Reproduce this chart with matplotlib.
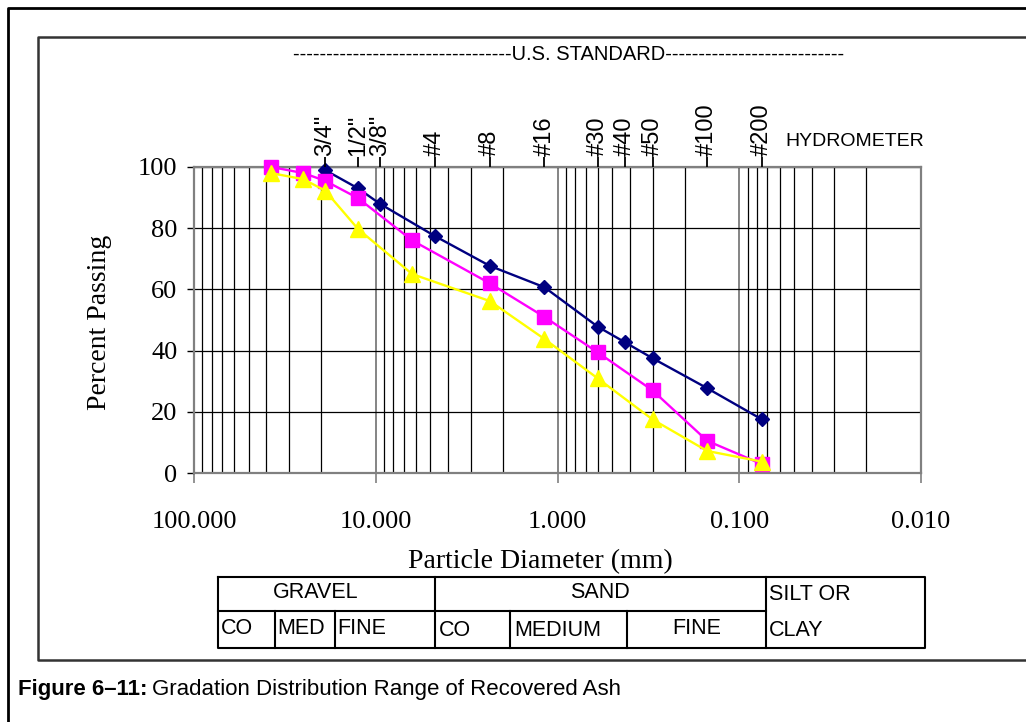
import numpy as np
import matplotlib
matplotlib.use("Agg")
import matplotlib.pyplot as plt
from matplotlib.lines import Line2D
from matplotlib.ticker import FixedLocator, NullFormatter, NullLocator, LogLocator, FormatStrFormatter

W, H = 1026, 722

# sieve openings (mm) and names for the top axis
sieve_mm = [19.0, 12.5, 9.5, 4.75, 2.36, 1.18, 0.6, 0.425, 0.3, 0.15, 0.075]
sieve_names = ['3/4"', '1/2"', '3/8"', '#4', '#8', '#16', '#30', '#40', '#50', '#100', '#200']

# series
navy_d = [19.0, 12.5, 9.5, 4.75, 2.36, 1.18, 0.6, 0.425, 0.3, 0.15, 0.075]
navy_p = [99, 93, 88, 77.5, 67.7, 60.7, 47.8, 42.7, 37.5, 27.7, 17.5]
pink_d = [37.5, 25.0, 19.0, 12.5, 6.3, 2.36, 1.18, 0.6, 0.3, 0.15, 0.075]
pink_p = [100, 98, 95.5, 89.8, 76, 62, 51, 39.4, 27, 10.5, 2.9]
yell_d = [37.5, 25.0, 19.0, 12.5, 6.3, 2.36, 1.18, 0.6, 0.3, 0.15, 0.075]
yell_p = [98, 96, 92.3, 79.7, 65, 56.2, 43.8, 30.9, 17.5, 7.2, 3.7]

serif = ['Liberation Serif', 'DejaVu Serif']
sans = ['Liberation Sans', 'DejaVu Sans']


def fx(x):
    return x / W


def fy(y):
    return 1 - y / H


def line(fig, xs, ys, color='black', lw=1.5):
    fig.add_artist(Line2D([fx(x) for x in xs], [fy(y) for y in ys],
                          transform=fig.transFigure, color=color, lw=lw,
                          solid_capstyle='projecting'))


fig = plt.figure(figsize=(W / 100, H / 100), dpi=100)
fig.patch.set_facecolor('white')

# frames
line(fig, [8, 8, W + 5], [H + 5, 8, 8], color='black', lw=2)
line(fig, [W + 5, 38, 38, W + 5], [37, 37, 660, 660], color='#333333', lw=1.8)

x0, x1, y0, y1 = 194, 921, 167, 473
ax = fig.add_axes([fx(x0), fy(y1), (x1 - x0) / W, (y1 - y0) / H])
ax.set_xscale('log')
ax.set_xlim(100, 0.01)
ax.set_ylim(0, 100)

ax.xaxis.set_major_locator(FixedLocator([100, 10, 1, 0.1, 0.01]))
ax.xaxis.set_major_formatter(FormatStrFormatter('%.3f'))
ax.xaxis.set_minor_locator(LogLocator(base=10, subs=np.arange(2, 10)))
ax.xaxis.set_minor_formatter(NullFormatter())
ax.set_yticks([0, 20, 40, 60, 80, 100])

ax.grid(True, which='minor', axis='x', color='black', lw=0.9)
ax.grid(True, which='major', axis='x', color='#707070', lw=1.2)
ax.grid(True, which='major', axis='y', color='black', lw=0.9)
ax.set_axisbelow(True)

for s in ax.spines.values():
    s.set_color('#808080')
    s.set_linewidth(1.6)

ax.tick_params(axis='x', which='major', direction='out', length=7.5, width=1.2,
               color='#808080', pad=20, labelsize=19)
ax.tick_params(axis='x', which='minor', length=0)
ax.tick_params(axis='y', direction='out', length=5, width=1, color='black',
               pad=7, labelsize=19)
for lab in ax.get_xticklabels() + ax.get_yticklabels():
    lab.set_family(serif)

ax.plot(navy_d, navy_p, color='#000080', lw=1.7, marker='D', ms=7.5,
        mfc='#000080', mec='#000080', clip_on=False, zorder=3)
ax.plot(pink_d, pink_p, color='#FF00FF', lw=1.7, marker='s', ms=10,
        mfc='#FF00FF', mec='#FF00FF', clip_on=False, zorder=4)
ax.plot(yell_d, yell_p, color='#FFFF00', lw=1.7, marker='^', ms=11,
        mfc='#FFFF00', mec='#FFFF00', clip_on=False, zorder=5)

# sieve ticks on top
ax2 = ax.twiny()
ax2.set_xscale('log')
ax2.set_xlim(100, 0.01)
ax2.xaxis.set_major_locator(FixedLocator(sieve_mm))
ax2.xaxis.set_minor_locator(NullLocator())
ax2.set_xticklabels(sieve_names, rotation=90, family=sans, fontsize=17)
ax2.tick_params(axis='x', direction='out', length=7, width=1.3, color='black', pad=1)
for s in ax2.spines.values():
    s.set_visible(False)

fig.text(fx(785), fy(141), 'HYDROMETER', family=sans, fontsize=14,
         ha='left', va='center')
fig.text(fx(569), fy(55), '-' * 33 + 'U.S. STANDARD' + '-' * 27, family=sans,
         fontsize=14.5, ha='center', va='center')

fig.text(fx(100), fy(322), 'Percent Passing', family=serif, fontsize=20,
         rotation=90, ha='center', va='center')
fig.text(fx(540), fy(562), 'Particle Diameter (mm)', family=serif, fontsize=20,
         ha='center', va='center')

# soil classification table
tl, tr, tt, tm, tb = 218, 925, 577, 611, 648
line(fig, [tl, tr, tr, tl, tl], [tt, tt, tb, tb, tt])
line(fig, [tl, 766], [tm, tm])
for xv in (435, 766):
    line(fig, [xv, xv], [tt, tb])
for xv in (275, 335, 510, 627):
    line(fig, [xv, xv], [tm, tb])

cells = [('GRAVEL', 316, 592, 'center'), ('SAND', 600, 592, 'center'),
         ('SILT OR', 769, 595, 'left'), ('CLAY', 769, 631, 'left'),
         ('CO', 221, 628, 'left'), ('MED', 277, 628, 'left'),
         ('FINE', 337, 628, 'left'), ('CO', 439, 630, 'left'),
         ('MEDIUM', 514, 631, 'left'), ('FINE', 697, 629, 'center')]
for txt, xx, yy, ha in cells:
    fig.text(fx(xx), fy(yy), txt, family=sans, fontsize=15.5, ha=ha, va='center')

# caption
t1 = fig.text(fx(18), fy(690), 'Figure 6\u201311:', family=sans, fontsize=16,
              fontweight='bold', ha='left', va='center')
fig.canvas.draw()
bb = t1.get_window_extent()
fig.text((bb.x1 + 4) / W, fy(690), 'Gradation Distribution Range of Recovered Ash',
         family=sans, fontsize=16, ha='left', va='center')

fig.savefig('out.png', dpi=100, facecolor='white')
